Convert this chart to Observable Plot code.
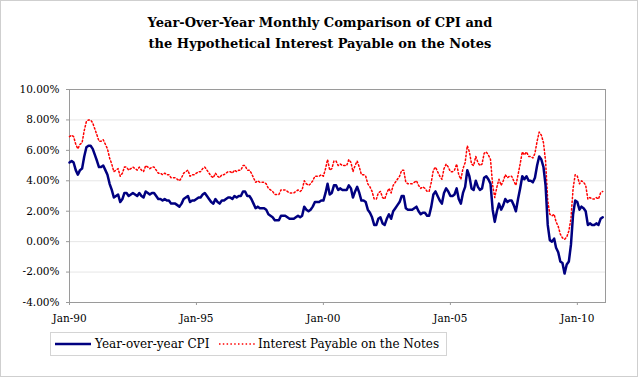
<!DOCTYPE html>
<html><head><meta charset="utf-8">
<script src="https://cdn.jsdelivr.net/npm/d3@7"></script>
<script src="https://cdn.jsdelivr.net/npm/@observablehq/plot@0.6"></script>
<style>
body{margin:0;background:#fff;}
#wrap{position:relative;width:640px;height:377px;overflow:hidden;font-family:"DejaVu Serif",serif;color:#000;}
#border{position:absolute;left:0;top:0;width:638px;height:377px;border:1px solid #cfcfcf;box-sizing:border-box;pointer-events:none;}
#title{position:absolute;left:0;top:12px;width:640px;text-align:center;font-weight:bold;font-size:13px;line-height:21px;}
#chart{position:absolute;left:0;top:60px;}
#legend{position:absolute;left:50px;top:332px;width:397px;height:24px;border:1px solid #d4d4d4;box-sizing:border-box;font-size:12px;}
#legend .item{position:absolute;top:0;height:22px;line-height:22px;white-space:nowrap;}
#legend svg{position:absolute;top:0;}
</style></head>
<body>
<div id="wrap">
  <div id="title">Year-Over-Year Monthly Comparison of CPI and<br>the Hypothetical Interest Payable on the Notes</div>
  <div id="chart"></div>
  <div id="legend"></div>
  <div id="border"></div>
</div>
<script>
// Monthly series starting Jan 1990 (values in percent)
const startYear = 1990;
const seriesNames = ["Year-over-year CPI", "Interest Payable on the Notes"];
const cpi = [
  5.2, 5.3, 5.2, 4.7, 4.4, 4.7, 4.8, 5.6, 6.2, 6.3, 6.3, 6.1,
  5.7, 5.3, 4.9, 4.9, 5.0, 4.7, 4.4, 3.8, 3.4, 2.9, 3.0, 3.1,
  2.6, 2.8, 3.2, 3.2, 3.0, 3.1, 3.2, 3.1, 3.0, 3.2, 3.0, 2.9,
  3.3, 3.2, 3.1, 3.2, 3.2, 3.0, 2.8, 2.8, 2.7, 2.8, 2.7, 2.7,
  2.5, 2.5, 2.5, 2.4, 2.3, 2.5, 2.8, 2.9, 3.0, 2.6, 2.7, 2.7,
  2.8, 2.9, 2.9, 3.1, 3.2, 3.0, 2.8, 2.6, 2.5, 2.8, 2.6, 2.5,
  2.7, 2.7, 2.8, 2.9, 2.9, 2.8, 3.0, 2.9, 3.0, 3.0, 3.3, 3.3,
  3.0, 3.0, 2.8, 2.5, 2.2, 2.3, 2.2, 2.2, 2.2, 2.1, 1.8, 1.7,
  1.6, 1.4, 1.4, 1.4, 1.7, 1.7, 1.7, 1.6, 1.5, 1.5, 1.5, 1.6,
  1.7, 1.6, 1.7, 2.3, 2.1, 2.0, 2.1, 2.3, 2.6, 2.6, 2.6, 2.7,
  2.7, 3.2, 3.8, 3.1, 3.2, 3.7, 3.7, 3.4, 3.5, 3.4, 3.4, 3.4,
  3.7, 3.5, 2.9, 3.3, 3.6, 3.2, 2.7, 2.7, 2.6, 2.1, 1.9, 1.6,
  1.1, 1.1, 1.5, 1.6, 1.2, 1.1, 1.5, 1.8, 1.5, 2.0, 2.2, 2.4,
  2.6, 3.0, 3.0, 2.2, 2.1, 2.1, 2.1, 2.2, 2.3, 2.0, 1.8, 1.9,
  1.9, 1.7, 1.7, 2.3, 3.1, 3.3, 3.0, 2.7, 2.5, 3.2, 3.5, 3.3,
  3.0, 3.0, 3.1, 3.5, 2.8, 2.5, 3.2, 3.6, 4.7, 4.3, 3.5, 3.4,
  4.0, 3.6, 3.4, 3.5, 4.2, 4.3, 4.1, 3.8, 2.1, 1.3, 2.0, 2.5,
  2.1, 2.4, 2.8, 2.6, 2.7, 2.7, 2.4, 2.0, 2.8, 3.5, 4.3, 4.1,
  4.3, 4.0, 4.0, 3.9, 4.2, 5.0, 5.6, 5.4, 4.9, 3.7, 1.1, 0.1,
  0.0, 0.2, -0.4, -0.7, -1.3, -1.4, -2.1, -1.5, -1.3, -0.2, 1.8, 2.7,
  2.6, 2.1, 2.3, 2.2, 2.0, 1.1, 1.2, 1.1, 1.1, 1.2, 1.1, 1.5,
  1.6
];
const interest = [
  6.9, 7.0, 6.9, 6.4, 6.1, 6.4, 6.5, 7.3, 7.9, 8.0, 8.0, 7.8,
  7.4, 7.0, 6.6, 6.6, 6.7, 6.4, 6.1, 5.5, 5.1, 4.6, 4.7, 4.8,
  4.3, 4.5, 4.9, 4.9, 4.7, 4.8, 4.9, 4.8, 4.7, 4.9, 4.7, 4.6,
  5.0, 4.9, 4.8, 4.9, 4.9, 4.7, 4.5, 4.5, 4.4, 4.5, 4.4, 4.4,
  4.2, 4.2, 4.2, 4.1, 4.0, 4.2, 4.5, 4.6, 4.7, 4.3, 4.4, 4.4,
  4.5, 4.6, 4.6, 4.8, 4.9, 4.7, 4.5, 4.3, 4.2, 4.5, 4.3, 4.2,
  4.4, 4.4, 4.5, 4.6, 4.6, 4.5, 4.7, 4.6, 4.7, 4.7, 5.0, 5.0,
  4.7, 4.7, 4.5, 4.2, 3.9, 4.0, 3.9, 3.9, 3.9, 3.8, 3.5, 3.4,
  3.3, 3.1, 3.1, 3.1, 3.4, 3.4, 3.4, 3.3, 3.2, 3.2, 3.2, 3.3,
  3.4, 3.3, 3.4, 4.0, 3.8, 3.7, 3.8, 4.0, 4.3, 4.3, 4.3, 4.4,
  4.3, 4.8, 5.4, 4.7, 4.8, 5.3, 5.3, 5.0, 5.1, 5.0, 5.0, 5.0,
  5.4, 5.2, 4.6, 5.0, 5.3, 4.9, 4.4, 4.4, 4.3, 3.8, 3.6, 3.3,
  2.8, 2.8, 3.2, 3.3, 2.9, 2.8, 3.2, 3.5, 3.2, 3.7, 3.9, 4.1,
  4.3, 4.7, 4.7, 3.9, 3.8, 3.8, 3.8, 3.9, 4.0, 3.7, 3.5, 3.6,
  3.5, 3.3, 3.3, 3.9, 4.7, 4.9, 4.6, 4.3, 4.1, 4.8, 5.1, 4.9,
  4.6, 4.6, 4.7, 5.1, 4.4, 4.1, 4.8, 5.2, 6.3, 5.9, 5.1, 5.0,
  5.6, 5.2, 5.0, 5.1, 5.8, 5.9, 5.7, 5.4, 3.7, 2.9, 3.6, 4.1,
  3.7, 4.0, 4.4, 4.2, 4.3, 4.3, 4.0, 3.7, 4.4, 5.1, 5.9, 5.7,
  5.9, 5.6, 5.6, 5.5, 5.8, 6.6, 7.2, 7.0, 6.5, 5.3, 2.7, 1.8,
  1.7, 1.8, 1.3, 1.0, 0.5, 0.25, 0.15, 0.3, 0.7, 1.5, 3.5, 4.4,
  4.3, 3.8, 4.0, 3.9, 3.7, 2.8, 2.9, 2.8, 2.8, 2.9, 2.8, 3.2,
  3.3
];
const yTicks = [-4, -2, 0, 2, 4, 6, 8, 10];
const xTickYears = [1990, 1995, 2000, 2005, 2010];
const xTickLabels = ["Jan-90", "Jan-95", "Jan-00", "Jan-05", "Jan-10"];

const monthDate = i => new Date(Date.UTC(startYear, i, 1));
const rows = [];
cpi.forEach((v, i) => rows.push({date: monthDate(i), value: v, series: seriesNames[0]}));
interest.forEach((v, i) => rows.push({date: monthDate(i), value: v, series: seriesNames[1]}));
const xTicks = xTickYears.map(y => new Date(Date.UTC(y, 0, 1)));
const labelOf = new Map(xTicks.map((d, i) => [+d, xTickLabels[i]]));

const chart = Plot.plot({
  width: 640,
  height: 272,
  marginLeft: 69,
  marginRight: 35,
  marginTop: 29,
  marginBottom: 30,
  style: {fontFamily: "DejaVu Serif, serif", fontSize: "10.5px", color: "#000", background: "transparent"},
  x: {type: "utc", label: null, domain: [new Date(Date.UTC(1990, 0, 1)), new Date(Date.UTC(2011, 1, 10))]},
  y: {label: null, domain: [-4, 10]},
  marks: [
    Plot.gridY(yTicks, {stroke: "#e6e6e6", strokeOpacity: 1, strokeWidth: 1}),
    Plot.frame({stroke: "#9a9a9a", strokeWidth: 1}),
    Plot.axisY(yTicks, {label: null, tickSize: 3, tickPadding: 7, stroke: "#9a9a9a", tickFormat: d => d.toFixed(2) + "%", fontSize: 10.5}),
    Plot.axisX(xTicks, {label: null, tickSize: 3, tickPadding: 9, stroke: "#9a9a9a", tickFormat: d => labelOf.get(+d), fontSize: 10.5}),
    Plot.line(rows.filter(d => d.series === seriesNames[1]), {x: "date", y: "value", stroke: "#ff0000", strokeWidth: 1.5, strokeDasharray: "1.5 2.3"}),
    Plot.line(rows.filter(d => d.series === seriesNames[0]), {x: "date", y: "value", stroke: "#000080", strokeWidth: 2.5})
  ]
});
document.getElementById("chart").appendChild(chart);

// Legend
const legend = document.getElementById("legend");
const items = [
  {name: seriesNames[0], color: "#000080", width: 2.5, dash: null, sx: 4, tx: 44},
  {name: seriesNames[1], color: "#ff0000", width: 1.5, dash: "1.5 2.3", sx: 168, tx: 207}
];
items.forEach(it => {
  const s = d3.select(legend).append("svg").attr("width", 36).attr("height", 22).style("left", it.sx + "px");
  s.append("line").attr("x1", 0).attr("x2", 36).attr("y1", 11).attr("y2", 11)
    .attr("stroke", it.color).attr("stroke-width", it.width).attr("stroke-dasharray", it.dash);
  d3.select(legend).append("div").attr("class", "item").style("left", it.tx + "px").text(it.name);
});
</script>
</body></html>
